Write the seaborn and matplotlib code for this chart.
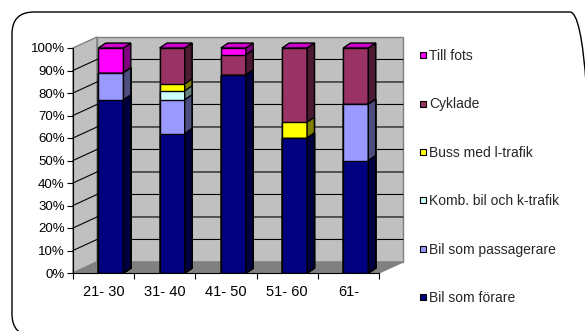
import numpy as np
import seaborn as sns
import matplotlib.pyplot as plt
from matplotlib.patches import Polygon, FancyBboxPatch
from matplotlib.lines import Line2D
from matplotlib.colors import to_rgb

# data (percent of trips per age group)
ages = ["21- 30", "31- 40", "41- 50", "51- 60", "61-"]
bil_forare = [77, 62, 88, 60, 50]
bil_passagerare = [12, 15, 0, 0, 25]
komb_bil_k = [0, 4, 0, 0, 0]
buss_l = [0, 3, 0, 7, 0]
cyklade = [0, 16, 9, 33, 25]
till_fots = [11, 0, 3, 0, 0]

series_names = ["Bil som förare", "Bil som passagerare", "Komb. bil och k-trafik",
                "Buss med l-trafik", "Cyklade", "Till fots"]
series_vals = [bil_forare, bil_passagerare, komb_bil_k, buss_l, cyklade, till_fots]
colors = ["#000080", "#9999FF", "#CCFFFF", "#FFFF00", "#993366", "#FF00FF"]


def dark(c, f):
    return tuple(np.array(to_rgb(c)) * f)


sns.set_theme(style="white")
plt.rcParams["font.family"] = ["Liberation Sans", "DejaVu Sans"]

fig = plt.figure(figsize=(5.85, 3.31), dpi=100)
ax = fig.add_axes([73 / 585, 58 / 331, 306 / 585, 225 / 331])
ax.set_facecolor("none")

# 3d look: wall depth and bar depth in data units
x0, x1 = -0.5, 4.5
wdx, wdy = 0.392, 4.9
bdx, bdy = 0.12, 2.2
shift = 0.12

# walls and floor
wall = dict(fc="#C0C0C0", ec="#808080", lw=1, zorder=0.5, clip_on=False)
ax.add_patch(Polygon([(x0, 0), (x0, 100), (x0 + wdx, 100 + wdy), (x0 + wdx, wdy)], **wall))
ax.add_patch(Polygon([(x0 + wdx, wdy), (x0 + wdx, 100 + wdy), (x1 + wdx, 100 + wdy), (x1 + wdx, wdy)], **wall))
ax.add_patch(Polygon([(x0, 0), (x1, 0), (x1 + wdx, wdy), (x0 + wdx, wdy)],
                     fc="#808080", ec="#808080", lw=1, zorder=0.5, clip_on=False))
for v in range(10, 100, 10):
    ax.plot([x0, x0 + wdx, x1 + wdx], [v, v + wdy, v + wdy], color="black", lw=0.8,
            zorder=0.6, clip_on=False)

# stacked bars: draw cumulative tops from the top series down
cum = np.cumsum(np.array(series_vals), axis=0)
for i in reversed(range(len(series_vals))):
    n_before = len(ax.patches)
    sns.barplot(x=ages, y=cum[i], color=colors[i], saturation=1, width=0.41,
                edgecolor="black", linewidth=1, ax=ax, zorder=2)
    new = ax.patches[n_before:]
    for p in new:
        p.set_x(p.get_x() + shift)
        px, w, h = p.get_x(), p.get_width(), p.get_height()
        ax.add_patch(Polygon([(px + w, 0), (px + w + bdx, bdy), (px + w + bdx, h + bdy), (px + w, h)],
                             fc=dark(colors[i], 0.5), ec="black", lw=1, zorder=2, clip_on=False))
    if i == len(series_vals) - 1:
        tops = [(p.get_x(), p.get_width(), p.get_height()) for p in new]

for px, w, h in tops:
    ax.add_patch(Polygon([(px, h), (px + w, h), (px + w + bdx, h + bdy), (px + bdx, h + bdy)],
                         fc=dark(colors[-1], 0.8), ec="black", lw=1, zorder=2.1, clip_on=False))

# axes
ax.set_xlim(x0, x1)
ax.set_ylim(0, 100)
ax.set_yticks(range(0, 101, 10))
ax.set_yticklabels([f"{v}%" for v in range(0, 101, 10)])
ax.set_xticks(range(len(ages)))
ax.set_xticklabels(ages)
ax.set_xticks(np.arange(-0.5, len(ages), 1), minor=True)
ax.tick_params(axis="x", which="major", length=0, pad=8.5, labelsize=10.5, colors="black")
ax.tick_params(axis="x", which="minor", length=4, width=0.8, direction="out", bottom=True,
               colors="black")
ax.tick_params(axis="y", length=4, width=0.8, direction="out", left=True, pad=2,
               labelsize=9.5, colors="black")
ax.set_xlabel("")
ax.set_ylabel("")
ax.grid(False)
for s in ["top", "right"]:
    ax.spines[s].set_visible(False)
for s in ["left", "bottom"]:
    ax.spines[s].set_color("black")
    ax.spines[s].set_linewidth(0.8)

# legend
handles = [Line2D([], [], marker="s", ls="none", markersize=4, markerfacecolor=c,
                  markeredgecolor="black", markeredgewidth=0.8) for c in colors]
fig.legend(handles[::-1], series_names[::-1], loc="upper left",
           bbox_to_anchor=(420 / 585, 1 - 49 / 331), frameon=False, fontsize=10,
           labelspacing=2.48, handlelength=0.45, handletextpad=0.2,
           borderpad=0, borderaxespad=0)

# rounded outer border
fig.add_artist(FancyBboxPatch((0.12, -0.05), 5.8, 3.24,
                              boxstyle="round,pad=0,rounding_size=0.22",
                              transform=fig.dpi_scale_trans, fill=False,
                              ec="black", lw=1))

fig.savefig("out.png", dpi=100)
